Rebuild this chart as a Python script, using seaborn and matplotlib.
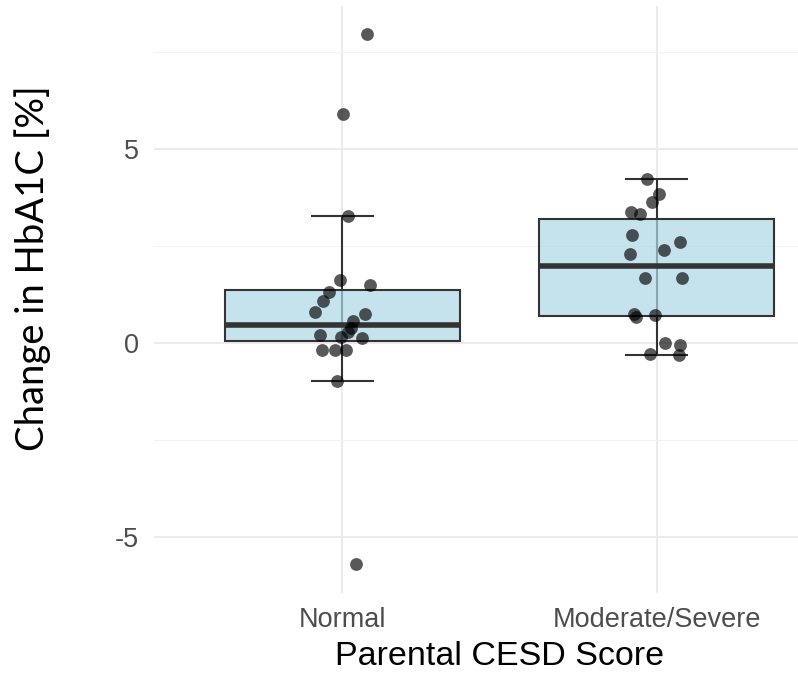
import numpy as np
import pandas as pd
import matplotlib
matplotlib.use("Agg")
import matplotlib.pyplot as plt
import seaborn as sns
from matplotlib.ticker import MultipleLocator, FixedLocator

# Groups of parental depression score
groups = ["Normal", "Moderate/Severe"]

# Change in HbA1c (%) per child, with the horizontal jitter of each dot
normal_change = [7.98, 5.90, 3.29, 1.62, 1.51, 1.31, 1.09, 0.81, 0.74, 0.56,
                 0.40, 0.29, 0.21, 0.16, 0.14, -0.18, -0.18, -0.18, -0.98, -5.70]
normal_jitter = [0.079, 0.003, 0.017, -0.007, 0.089, -0.044, -0.063, -0.086, 0.073, 0.033,
                 0.028, 0.017, -0.071, -0.006, 0.063, -0.065, -0.025, 0.012, -0.018, 0.044]

severe_change = [4.22, 3.84, 3.63, 3.39, 3.32, 2.79, 2.61, 2.41, 2.29, 1.67,
                 1.67, 0.76, 0.68, 0.72, 0.01, -0.05, -0.29, -0.31]
severe_jitter = [-0.031, 0.007, -0.015, -0.081, -0.052, -0.079, 0.076, 0.023, -0.084, -0.038,
                 0.082, -0.073, -0.067, -0.004, 0.028, 0.076, -0.020, 0.073]

y_ticks = [-5, 0, 5]

df = pd.DataFrame({
    "group": [groups[0]] * len(normal_change) + [groups[1]] * len(severe_change),
    "change": normal_change + severe_change,
    "jitter": normal_jitter + severe_jitter,
})
df["pos"] = df["group"].map({g: i for i, g in enumerate(groups)}) + df["jitter"]

plt.rcParams["axes.unicode_minus"] = False

W, H = 798, 674
fig = plt.figure(figsize=(W / 100, H / 100), dpi=100)
fig.patch.set_facecolor("white")
ax = fig.add_axes([154 / W, (H - 593) / H, 691 / W, 587 / H])

line_col = "#333333"

# Whisker bars (1.5 * IQR rule) drawn under the boxes, with caps
for i, g in enumerate(groups):
    v = np.sort(df.loc[df["group"] == g, "change"].to_numpy())
    q1, q3 = np.percentile(v, [25, 75])
    iqr = q3 - q1
    lo = v[v >= q1 - 1.5 * iqr].min()
    hi = v[v <= q3 + 1.5 * iqr].max()
    ax.vlines(i, lo, hi, color=line_col, lw=1.5, zorder=1)
    ax.hlines([lo, hi], i - 0.1, i + 0.1, color=line_col, lw=1.5, zorder=1)

sns.boxplot(data=df, x="group", y="change", order=groups, ax=ax,
            width=0.75, showfliers=False, color="lightblue", saturation=1,
            linecolor=line_col, linewidth=1.5,
            whiskerprops={"visible": False}, capprops={"visible": False},
            medianprops={"linewidth": 4, "color": line_col})
for p in ax.patches:
    p.set_facecolor((173 / 255, 216 / 255, 230 / 255, 0.7))
    p.set_edgecolor(line_col)
    p.set_zorder(2)

sns.scatterplot(data=df, x="pos", y="change", ax=ax, color="black", alpha=0.65,
                s=85, linewidth=0, zorder=4, legend=False)

ax.set_xlim(-0.6, 1.6)
ax.set_ylim(-6.44, 8.69)
ax.xaxis.set_major_locator(FixedLocator([0, 1]))
ax.set_xticklabels(groups)
ax.yaxis.set_major_locator(FixedLocator(y_ticks))
ax.yaxis.set_minor_locator(MultipleLocator(2.5))

ax.set_facecolor("white")
ax.grid(True, which="major", color="#EBEBEB", lw=1.5)
ax.grid(True, which="minor", axis="y", color="#F2F2F2", lw=0.8)
ax.set_axisbelow(True)
for s in ax.spines.values():
    s.set_visible(False)

ax.tick_params(axis="both", which="both", length=0, labelsize=19.5, labelcolor="#4D4D4D")
ax.tick_params(axis="y", pad=11)
ax.tick_params(axis="x", pad=10)
for t in ax.get_xticklabels() + ax.get_yticklabels():
    t.set_fontfamily("Liberation Sans")

ax.set_xlabel("Parental CESD Score", fontsize=24.5, family="Liberation Sans",
              color="black", labelpad=6)
ax.set_ylabel("")

fig.text(33 / W, 1 - 268 / H, "Change in HbA1C [%]", rotation=90, fontsize=27.5,
         family="Lato", color="black", ha="center", va="center")

fig.savefig("out.png", dpi=100)
